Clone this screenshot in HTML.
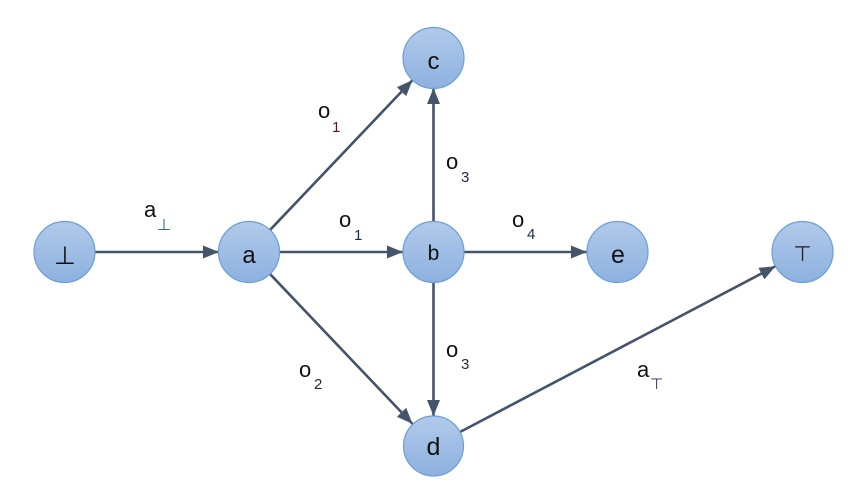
<!DOCTYPE html>
<html>
<head>
<meta charset="utf-8">
<style>
html,body{margin:0;padding:0;background:#ffffff;}
svg{display:block;}
text{font-family:"Liberation Sans","DejaVu Sans",sans-serif;fill:#111;}
</style>
</head>
<body>
<svg width="865" height="502" viewBox="0 0 865 502" xmlns="http://www.w3.org/2000/svg">
<defs>
  <linearGradient id="g" x1="0" y1="0" x2="0" y2="1">
    <stop offset="0" stop-color="#B1CAEA"/>
    <stop offset="1" stop-color="#8DB1DF"/>
  </linearGradient>
  <marker id="ar" markerUnits="userSpaceOnUse" markerWidth="18" markerHeight="14" refX="16" refY="6.5" orient="auto">
    <path d="M0,0 L16,6.5 L0,13 z" fill="#44546A"/>
  </marker>
</defs>

<g stroke="#44546A" stroke-width="2.6" fill="none" marker-end="url(#ar)">
  <line x1="95" y1="252" x2="219" y2="252"/>
  <line x1="269.7" y1="230.3" x2="412.5" y2="80.1"/>
  <line x1="279" y1="252" x2="403" y2="252"/>
  <line x1="269.7" y1="273.7" x2="412.5" y2="423.9"/>
  <line x1="433.5" y1="222" x2="433.5" y2="88"/>
  <line x1="464" y1="252" x2="587" y2="252"/>
  <line x1="433.5" y1="282" x2="433.5" y2="416"/>
  <line x1="460" y1="432" x2="775.5" y2="266.2"/>
</g>

<g fill="url(#g)" stroke="#6A9FD8" stroke-width="1.2">
  <circle cx="64.5" cy="252" r="30.5"/>
  <circle cx="249" cy="252" r="30.5"/>
  <circle cx="433.5" cy="58" r="30.5"/>
  <circle cx="433.5" cy="252" r="30.5"/>
  <circle cx="617.5" cy="252" r="30.5"/>
  <circle cx="802.5" cy="252" r="30.5"/>
  <circle cx="433.5" cy="446" r="30"/>
</g>

<!-- node labels -->
<g text-anchor="middle">
  <text x="65" y="264" font-size="25" style="font-family:'DejaVu Sans',sans-serif">⊥</text>
  <text x="249" y="263" font-size="24">a</text>
  <text x="433.5" y="69" font-size="24">c</text>
  <text x="433.5" y="260" font-size="21">b</text>
  <text x="618" y="263" font-size="25">e</text>
  <text x="433.5" y="455" font-size="25">d</text>
  <text x="802.5" y="261" font-size="21" style="font-family:'DejaVu Sans',sans-serif;fill:#2a1a1a">⊤</text>
</g>

<!-- edge labels -->
<text x="144" y="217" font-size="22">a</text>
<text x="157" y="230" font-size="16" style="font-family:'DejaVu Sans',sans-serif;fill:#2a62a8">⊥</text>

<text x="318" y="118" font-size="22">o</text>
<text x="332" y="132" font-size="15" style="fill:#6a1010">1</text>

<text x="339" y="227" font-size="22">o</text>
<text x="354" y="240" font-size="15" style="fill:#1a2a4a">1</text>

<text x="446" y="169" font-size="22">o</text>
<text x="461" y="182" font-size="15" style="fill:#1a2a4a">3</text>

<text x="512" y="227" font-size="22">o</text>
<text x="527" y="239" font-size="15" style="fill:#1a2a5a">4</text>

<text x="446" y="357" font-size="22">o</text>
<text x="461" y="369" font-size="15" style="fill:#2a2a3a">3</text>

<text x="299" y="377" font-size="22">o</text>
<text x="314" y="389" font-size="15" style="fill:#2a2a3a">2</text>

<text x="637" y="377" font-size="22">a</text>
<text x="650" y="389" font-size="15" style="font-family:'DejaVu Sans',sans-serif;fill:#1a2a5a">⊤</text>
</svg>
</body>
</html>
